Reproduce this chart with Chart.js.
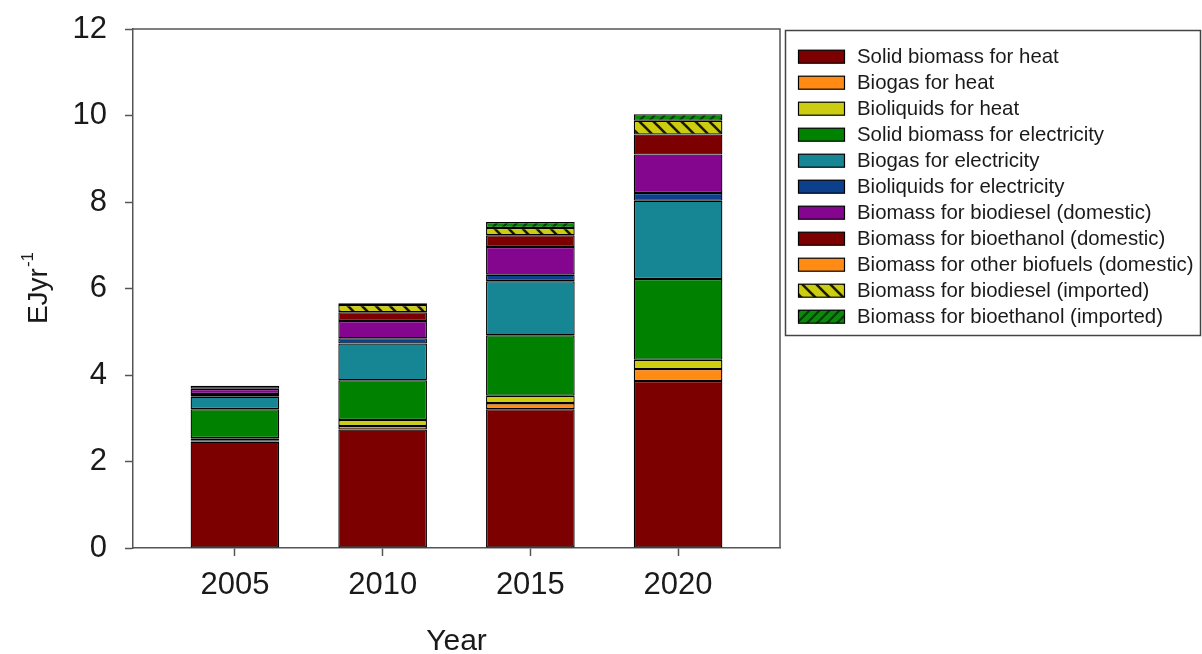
<!DOCTYPE html>
<html>
<head>
<meta charset="utf-8">
<script src="https://cdn.jsdelivr.net/npm/chart.js@4.4.1/dist/chart.umd.min.js"></script>
<style>
  html, body { margin: 0; padding: 0; background: #ffffff; }
  #wrap { width: 1202px; height: 654px; position: relative; }
</style>
</head>
<body>
<div id="wrap"><canvas id="c" width="1202" height="654"></canvas></div>
<script>
// ---------------- data ----------------
const years = [2005, 2010, 2015, 2020];
const yTickValues = [0, 2, 4, 6, 8, 10, 12];
const xTitle = 'Year';
const yTitleMain = 'EJyr';
const yTitleSup = '-1';

const seriesNames = [
  'Solid biomass for heat',
  'Biogas for heat',
  'Bioliquids for heat',
  'Solid biomass for electricity',
  'Biogas for electricity',
  'Bioliquids for electricity',
  'Biomass for biodiesel (domestic)',
  'Biomass for bioethanol (domestic)',
  'Biomass for other biofuels (domestic)',
  'Biomass for biodiesel (imported)',
  'Biomass for bioethanol (imported)'
];

const solidBiomassHeat      = [2.46, 2.74, 3.21, 3.86];
const biogasHeat            = [0.03, 0.08, 0.14, 0.28];
const bioliquidsHeat        = [0.05, 0.14, 0.17, 0.21];
const solidBiomassElec      = [0.67, 0.92, 1.40, 1.87];
const biogasElec            = [0.29, 0.85, 1.25, 1.81];
const bioliquidsElec        = [0.06, 0.12, 0.15, 0.18];
const biodieselDomestic     = [0.12, 0.40, 0.64, 0.89];
const bioethanolDomestic    = [0.07, 0.20, 0.27, 0.46];
const otherBiofuelsDomestic = [0.00, 0.00, 0.00, 0.00];
const biodieselImported     = [0.00, 0.17, 0.17, 0.32];
const bioethanolImported    = [0.00, 0.04, 0.14, 0.15];

const seriesValues = [
  solidBiomassHeat, biogasHeat, bioliquidsHeat, solidBiomassElec, biogasElec,
  bioliquidsElec, biodieselDomestic, bioethanolDomestic, otherBiofuelsDomestic,
  biodieselImported, bioethanolImported
];

// ---------------- styles ----------------
const FONT = "'Liberation Sans', Arial, Helvetica, sans-serif";

function hatch(bg, line, dir, size, lw) {
  const c = document.createElement('canvas');
  c.width = size; c.height = size;
  const g = c.getContext('2d');
  g.fillStyle = bg; g.fillRect(0, 0, size, size);
  g.strokeStyle = line; g.lineWidth = lw; g.lineCap = 'square';
  g.beginPath();
  for (let k = -1; k <= 1; k++) {
    if (dir === '\\') { g.moveTo(k * size, 0); g.lineTo(k * size + size, size); }
    else { g.moveTo(k * size, size); g.lineTo(k * size + size, 0); }
  }
  g.stroke();
  return g.createPattern(c, 'repeat');
}

const yellowHatch = hatch('#cccc10', '#1a1a00', '\\', 14, 2.6);
const greenHatch  = hatch('#0a8a0a', '#033d03', '/', 10, 2.2);

const seriesColors = [
  '#7d0000', '#ff8a14', '#cccc10', '#008200', '#168594', '#0c3f8c',
  '#84068e', '#7d0000', '#ff8a14', yellowHatch, greenHatch
];

const datasets = seriesNames.map((name, i) => ({
  label: name,
  data: years.map((yr, j) => ({ x: yr, y: seriesValues[i][j] })),
  backgroundColor: seriesColors[i],
  borderColor: '#000000',
  borderWidth: 1.3,
  borderSkipped: false,
  barPercentage: 0.6,
  categoryPercentage: 1.0
}));

// ---------------- plugins ----------------
const framePlugin = {
  id: 'frame',
  afterDraw(chart) {
    const { ctx, chartArea: a } = chart;
    ctx.save();
    ctx.strokeStyle = '#555555';
    ctx.lineWidth = 1.5;
    ctx.beginPath();
    ctx.moveTo(a.left, a.top);
    ctx.lineTo(a.right, a.top);
    ctx.lineTo(a.right, a.bottom);
    ctx.stroke();
    ctx.restore();
  }
};

const yTitlePlugin = {
  id: 'ytitle',
  afterDraw(chart) {
    const { ctx, chartArea: a } = chart;
    ctx.save();
    const cx = 39, cy = (a.top + a.bottom) / 2;
    ctx.translate(cx, cy);
    ctx.rotate(-Math.PI / 2);
    ctx.fillStyle = '#1a1a1a';
    ctx.textBaseline = 'middle';
    ctx.textAlign = 'left';
    ctx.font = '28px ' + FONT;
    const w1 = ctx.measureText(yTitleMain).width;
    ctx.font = '17px ' + FONT;
    const w2 = ctx.measureText(yTitleSup).width;
    const start = -(w1 + w2) / 2;
    ctx.font = '28px ' + FONT;
    ctx.fillText(yTitleMain, start, 0);
    ctx.font = '17px ' + FONT;
    ctx.fillText(yTitleSup, start + w1 + 1, -11);
    ctx.restore();
  }
};

const legendPlugin = {
  id: 'boxLegend',
  afterDraw(chart) {
    const { ctx } = chart;
    ctx.save();
    ctx.strokeStyle = '#444444';
    ctx.lineWidth = 1.5;
    ctx.strokeRect(785.5, 30.5, 415, 305);
    ctx.font = '20.4px ' + FONT;
    ctx.textBaseline = 'middle';
    ctx.textAlign = 'left';
    chart.data.datasets.forEach((ds, i) => {
      const cy = 56.7 + 26 * i;
      ctx.fillStyle = ds.backgroundColor;
      ctx.fillRect(798, cy - 6.5, 47, 13);
      ctx.strokeStyle = '#000000';
      ctx.lineWidth = 1.2;
      ctx.strokeRect(798.5, cy - 6.5, 46, 13);
      ctx.fillStyle = '#1a1a1a';
      ctx.fillText(ds.label, 857, cy + 1);
    });
    ctx.restore();
  }
};

// ---------------- chart ----------------
new Chart(document.getElementById('c'), {
  type: 'bar',
  data: { datasets },
  options: {
    responsive: false,
    animation: false,
    devicePixelRatio: 1,
    layout: { padding: { left: 0, top: 29, right: 422, bottom: 0 } },
    plugins: {
      legend: { display: false },
      tooltip: { enabled: false }
    },
    scales: {
      x: {
        type: 'linear',
        stacked: true,
        offset: false,
        min: years[0] - 3.45,
        max: years[years.length - 1] + 3.45,
        afterBuildTicks(axis) { axis.ticks = years.map(v => ({ value: v })); },
        afterFit(axis) { axis.height = 106; axis.paddingLeft = 0; axis.paddingRight = 0; },
        grid: {
          display: true, drawOnChartArea: false, drawTicks: true,
          tickLength: 8, tickWidth: 1.5, tickColor: '#555555', offset: false
        },
        border: { display: true, color: '#555555', width: 1.5 },
        ticks: {
          padding: 11,
          color: '#1a1a1a',
          font: { family: FONT, size: 31 },
          callback: (v) => String(v),
          maxRotation: 0
        },
        title: {
          display: true, text: xTitle, color: '#1a1a1a',
          font: { family: FONT, size: 30, lineHeight: 1.0 },
          padding: { top: 0, bottom: -3 }
        }
      },
      y: {
        stacked: true,
        min: yTickValues[0],
        max: yTickValues[yTickValues.length - 1],
        afterBuildTicks(axis) { axis.ticks = yTickValues.map(v => ({ value: v })); },
        afterFit(axis) { axis.width = 133; axis.paddingTop = 0; axis.paddingBottom = 0; },
        grid: {
          display: true, drawOnChartArea: false, drawTicks: true,
          tickLength: 8, tickWidth: 1.5, tickColor: '#555555'
        },
        border: { display: true, color: '#555555', width: 1.5 },
        ticks: {
          padding: 18,
          color: '#1a1a1a',
          font: { family: FONT, size: 31 }
        },
        title: { display: false }
      }
    }
  },
  plugins: [framePlugin, yTitlePlugin, legendPlugin]
});
</script>
</body>
</html>
